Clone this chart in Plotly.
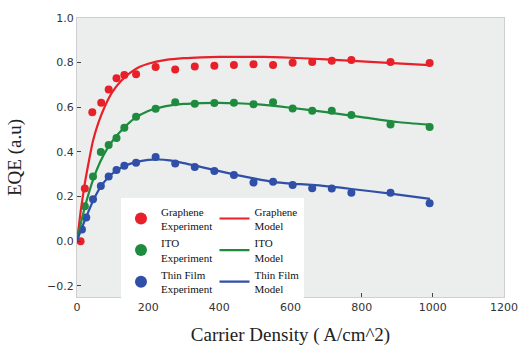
import plotly.graph_objects as go

# Measured EQE points
graphene_x = [10, 22, 43, 68, 89, 111, 133, 166, 221, 276, 331, 386, 441, 496, 551, 606, 661, 716, 771, 881, 991]
graphene_y = [0.0, 0.236, 0.578, 0.62, 0.68, 0.73, 0.745, 0.748, 0.78, 0.769, 0.783, 0.786, 0.789, 0.793,
              0.789, 0.80, 0.803, 0.808, 0.812, 0.803, 0.798]

ito_x = [22, 45, 67, 89, 111, 133, 166, 221, 276, 331, 386, 441, 496, 551, 606, 661, 716, 771, 881, 991]
ito_y = [0.157, 0.29, 0.40, 0.431, 0.462, 0.508, 0.558, 0.593, 0.623, 0.616, 0.619, 0.620, 0.614, 0.623,
         0.595, 0.584, 0.585, 0.565, 0.523, 0.512]

thin_x = [14, 26, 45, 67, 89, 111, 133, 166, 221, 276, 331, 386, 441, 496, 551, 606, 661, 716, 771, 881, 991]
thin_y = [0.052, 0.106, 0.188, 0.247, 0.29, 0.319, 0.338, 0.351, 0.377, 0.348, 0.332, 0.314, 0.297, 0.263,
          0.266, 0.252, 0.237, 0.236, 0.217, 0.217, 0.170]

# Model curves
graphene_model_x = [0, 10, 20, 30, 45, 60, 80, 100, 125, 150, 175, 200, 250, 300, 350, 400, 450, 500,
                    550, 600, 700, 800, 900, 990]
graphene_model_y = [0.0, 0.13, 0.24, 0.33, 0.45, 0.53, 0.61, 0.67, 0.72, 0.755, 0.78, 0.795, 0.812, 0.82,
                    0.824, 0.826, 0.826, 0.826, 0.825, 0.822, 0.815, 0.806, 0.797, 0.789]

ito_model_x = [0, 10, 25, 45, 65, 85, 105, 130, 160, 200, 250, 300, 350, 400, 450, 500, 600, 700, 800,
               900, 990]
ito_model_y = [0.0, 0.075, 0.17, 0.275, 0.355, 0.415, 0.46, 0.505, 0.548, 0.583, 0.605, 0.615, 0.619, 0.62,
               0.618, 0.614, 0.598, 0.578, 0.556, 0.534, 0.522]

thin_model_x = [0, 10, 25, 45, 65, 90, 110, 135, 165, 200, 230, 260, 300, 350, 400, 450, 500, 550, 600,
                661, 771, 881, 992]
thin_model_y = [0.0, 0.045, 0.105, 0.18, 0.24, 0.29, 0.315, 0.338, 0.354, 0.364, 0.366, 0.362, 0.35, 0.332,
                0.314, 0.296, 0.28, 0.266, 0.258, 0.252, 0.234, 0.213, 0.19]

RED = "#E8202A"
GREEN = "#1E8B3E"
BLUE = "#2F4FA8"

fig = go.Figure()

series = [
    ("Graphene", graphene_x, graphene_y, graphene_model_x, graphene_model_y, RED),
    ("ITO", ito_x, ito_y, ito_model_x, ito_model_y, GREEN),
    ("Thin Film", thin_x, thin_y, thin_model_x, thin_model_y, BLUE),
]

for name, ex, ey, mx, my, col in series:
    fig.add_trace(go.Scatter(
        x=ex, y=ey, mode="markers", name=f"{name}<br>Experiment",
        marker=dict(color=col, size=8), legend="legend",
    ))

for name, ex, ey, mx, my, col in series:
    fig.add_trace(go.Scatter(
        x=mx, y=my, mode="lines", name=f"{name}<br>Model",
        line=dict(color=col, width=2.2, shape="spline", smoothing=0.6), legend="legend2",
    ))

legend_font = dict(family="Liberation Serif", size=11, color="#111")

fig.update_layout(
    width=530, height=354,
    margin=dict(l=77, r=17, t=14, b=55),
    paper_bgcolor="white",
    plot_bgcolor="#ECEEEE",
    showlegend=True,
    legend=dict(
        x=0.103, y=0.356, xanchor="left", yanchor="top",
        bgcolor="white", borderwidth=0, font=legend_font,
        itemsizing="constant", tracegroupgap=0,
    ),
    legend2=dict(
        x=0.322, y=0.356, xanchor="left", yanchor="top",
        bgcolor="white", borderwidth=0, font=legend_font,
        tracegroupgap=0,
    ),
    xaxis=dict(
        range=[0, 1200], tickvals=[0, 200, 400, 600, 800, 1000, 1200],
        showgrid=False, zeroline=False,
        showline=True, linecolor="#CFCFCF", linewidth=1, mirror=True,
        ticks="inside", ticklen=4, tickcolor="#444",
        tickfont=dict(family="DejaVu Sans", size=11, color="#333"),
        title=dict(text="Carrier Density ( A/cm^2)",
                   font=dict(family="Liberation Serif", size=19, color="#222"), standoff=14),
    ),
    yaxis=dict(
        range=[-0.25, 1.0], tickvals=[-0.2, 0.0, 0.2, 0.4, 0.6, 0.8, 1.0],
        ticktext=["\u22120.2", "0.0", "0.2", "0.4", "0.6", "0.8", "1.0"],
        showgrid=False, zeroline=False,
        showline=True, linecolor="#CFCFCF", linewidth=1, mirror=True,
        ticks="inside", ticklen=4, tickcolor="#444",
        tickfont=dict(family="DejaVu Sans", size=11, color="#333"),
        title=dict(text="EQE (a.u)",
                   font=dict(family="Liberation Serif", size=19, color="#222"), standoff=20),
    ),
)

fig.write_html("out.html")
